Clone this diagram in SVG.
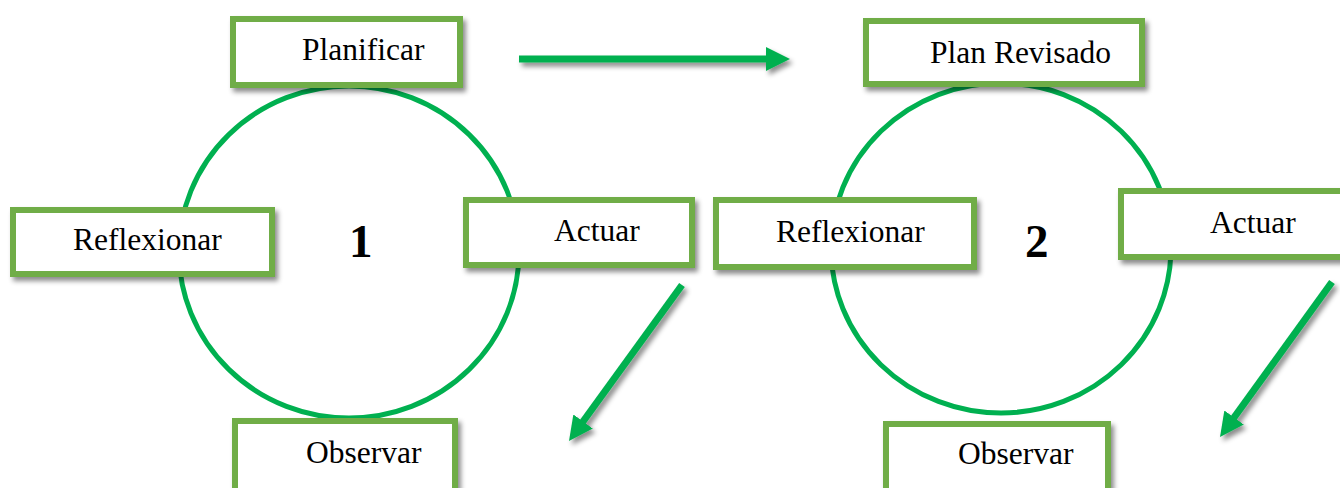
<svg xmlns="http://www.w3.org/2000/svg" width="1340" height="488" viewBox="0 0 1340 488">
<defs>
<filter id="sh" x="-20%" y="-20%" width="140%" height="140%">
<feDropShadow dx="3" dy="4" stdDeviation="2.5" flood-color="#000" flood-opacity="0.45"/>
</filter>
<marker id="ah" markerUnits="userSpaceOnUse" markerWidth="24" markerHeight="24" refX="9" refY="12" orient="auto">
<path d="M0,0 L24,12 L0,24 z" fill="#00B050"/>
</marker>
<style>
.circ{fill:none;stroke:#00B050;stroke-width:5}
.box{fill:#fff;stroke:#70AD47;stroke-width:6;filter:url(#sh)}
.lbl{font-family:"Liberation Serif","Times New Roman",serif;font-size:31.5px;fill:#000}
.num{font-family:"Liberation Serif","Times New Roman",serif;font-size:47px;font-weight:bold;fill:#000}
.arr{stroke:#00B050;stroke-width:7;fill:none;marker-end:url(#ah)}
</style>
</defs>
<rect width="1340" height="488" fill="#fff"/>
<g id="cycle1">
<ellipse class="circ" cx="349" cy="252" rx="170" ry="166"/>
<text class="num" x="349" y="257">1</text>
</g>
<g id="cycle2">
<ellipse class="circ" cx="1001" cy="248" rx="170" ry="165"/>
<text class="num" x="1025" y="257">2</text>
</g>
<g id="connectors" filter="url(#sh)">
<line class="arr" x1="519" y1="59" x2="775" y2="59"/>
<line class="arr" x1="682" y1="285" x2="577.8" y2="428.8"/>
<line class="arr" x1="1332" y1="282" x2="1228.8" y2="424.8"/>
</g>
<g id="planificar"><rect class="box" x="233" y="19" width="227" height="66"/><text class="lbl" x="302" y="60">Planificar</text></g>
<g id="reflexionar1"><rect class="box" x="13" y="210" width="259" height="64"/><text class="lbl" x="73" y="250">Reflexionar</text></g>
<g id="actuar1"><rect class="box" x="466" y="200" width="226" height="65"/><text class="lbl" x="554" y="241">Actuar</text></g>
<g id="observar1"><rect class="box" x="235" y="421" width="220" height="80"/><text class="lbl" x="306" y="463">Observar</text></g>
<g id="planrevisado"><rect class="box" x="866" y="21" width="276" height="63"/><text class="lbl" x="930" y="63">Plan Revisado</text></g>
<g id="reflexionar2"><rect class="box" x="716" y="200" width="258" height="67"/><text class="lbl" x="776" y="242">Reflexionar</text></g>
<g id="actuar2"><rect class="box" x="1121" y="191" width="240" height="66"/><text class="lbl" x="1210" y="233">Actuar</text></g>
<g id="observar2"><rect class="box" x="886" y="424" width="222" height="80"/><text class="lbl" x="958" y="464">Observar</text></g>
</svg>
